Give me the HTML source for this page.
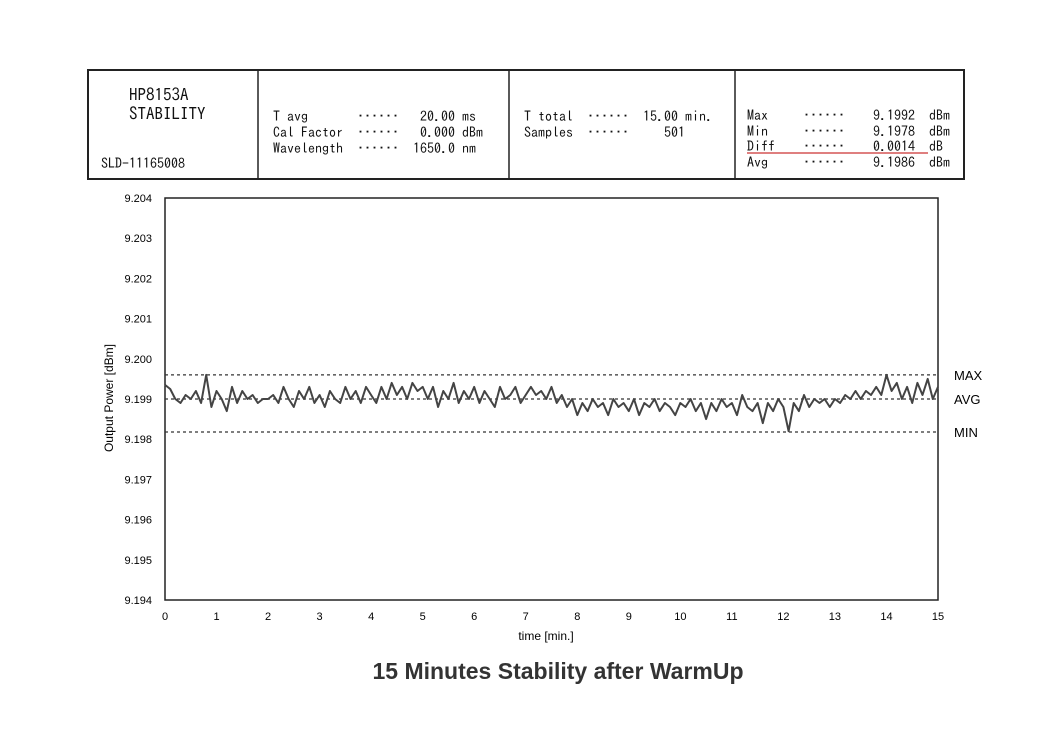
<!DOCTYPE html>
<html><head><meta charset="utf-8"><style>
body{margin:0;background:#fff;}
svg text{font-family:"Liberation Sans",sans-serif;}
.g{font-family:"IPAGothic","Liberation Mono",monospace;font-size:14px;fill:#111;}
</style></head><body>
<svg width="1052" height="744" viewBox="0 0 1052 744">
<rect x="0" y="0" width="1052" height="744" fill="#fff"/>
<g>
<rect x="88" y="70" width="876" height="109" fill="none" stroke="#222" stroke-width="2"/>
<line x1="258" y1="70" x2="258" y2="179" stroke="#222" stroke-width="1.5"/>
<line x1="509" y1="70" x2="509" y2="179" stroke="#222" stroke-width="1.5"/>
<line x1="735" y1="70" x2="735" y2="179" stroke="#222" stroke-width="1.5"/>
<text class="g" x="129" y="101" style="font-size:17px">HP8153A</text>
<text class="g" x="129" y="120" style="font-size:17px">STABILITY</text>
<text class="g" x="101" y="168">SLD-11165008</text>
<text class="g" x="273" y="121" xml:space="preserve">T avg       ······   20.00 ms</text>
<text class="g" x="273" y="137" xml:space="preserve">Cal Factor  ······   0.000 dBm</text>
<text class="g" x="273" y="153" xml:space="preserve">Wavelength  ······  1650.0 nm</text>
<text class="g" x="524" y="121" xml:space="preserve">T total  ······  15.00 min.</text>
<text class="g" x="524" y="137" xml:space="preserve">Samples  ······     501</text>
<text class="g" x="747" y="120" xml:space="preserve">Max     ······    9.1992  dBm</text>
<text class="g" x="747" y="136" xml:space="preserve">Min     ······    9.1978  dBm</text>
<text class="g" x="747" y="151" xml:space="preserve">Diff    ······    0.0014  dB</text>
<line x1="747" y1="153" x2="928" y2="153" stroke="#c33" stroke-width="1.2"/>
<text class="g" x="747" y="167" xml:space="preserve">Avg     ······    9.1986  dBm</text>
</g>
<g id="chart"></g>
<text x="113" y="398" transform="rotate(-90 113 398)" text-anchor="middle" font-size="12">Output Power [dBm]</text>
<text x="546" y="640" text-anchor="middle" font-size="12">time [min.]</text>
<text x="558" y="679" text-anchor="middle" font-size="23" font-weight="bold" fill="#333">15 Minutes Stability after WarmUp</text>
</svg>
<script>
const yTicks=[9.194,9.195,9.196,9.197,9.198,9.199,9.200,9.201,9.202,9.203,9.204];
const xTicks=[0,1,2,3,4,5,6,7,8,9,10,11,12,13,14,15];
const refNames=["MAX","AVG","MIN"];
const refValues=[9.1996,9.19900,9.19818];
const power=[9.19935,9.19925,9.1990,9.1989,9.1991,9.1990,9.1992,9.1989,9.1996,9.1988,9.1992,
9.1990,9.1987,9.1993,9.1989,9.1992,9.1990,9.1991,9.1989,9.1990,9.1990,
9.1991,9.1989,9.1993,9.1990,9.1988,9.1992,9.1990,9.1993,9.1989,9.1991,
9.1988,9.1992,9.1990,9.1989,9.1993,9.1990,9.1992,9.1989,9.1993,9.1991,
9.1989,9.1993,9.1990,9.1994,9.1991,9.1993,9.1990,9.1994,9.1992,9.1993,
9.1990,9.1993,9.1988,9.1992,9.1990,9.1994,9.1989,9.1992,9.1990,9.1993,
9.1989,9.1992,9.1990,9.1988,9.1993,9.1990,9.1991,9.1993,9.1989,9.1991,
9.1993,9.1991,9.1992,9.1990,9.1993,9.1989,9.1991,9.1988,9.1990,9.1986,
9.1989,9.1987,9.1990,9.1988,9.1989,9.1986,9.1990,9.1988,9.1989,9.1987,
9.1990,9.1986,9.1989,9.1988,9.1990,9.1987,9.1989,9.1988,9.1986,9.1989,
9.1988,9.1990,9.1987,9.1989,9.1985,9.1989,9.1987,9.1990,9.1988,9.1989,
9.1986,9.1991,9.1988,9.1987,9.1989,9.1984,9.1989,9.1987,9.1990,9.1988,
9.1982,9.1989,9.1987,9.1991,9.1988,9.1990,9.1989,9.1990,9.1988,9.1990,
9.1989,9.1991,9.1990,9.1992,9.1990,9.1992,9.1991,9.1993,9.1991,9.1996,
9.1992,9.1994,9.1990,9.1993,9.1989,9.1994,9.1991,9.1995,9.1990,9.1993];
const NS="http://www.w3.org/2000/svg";
const L=165,R=938,T=198,B=600,x0=0,x1=15,y0=9.194,y1=9.204;
const sx=v=>L+(v-x0)/(x1-x0)*(R-L);
const sy=v=>B-(v-y0)/(y1-y0)*(B-T);
const g=document.getElementById('chart');
function mk(t,a,txt){const e=document.createElementNS(NS,t);for(const k in a)e.setAttribute(k,a[k]);if(txt!==undefined)e.textContent=txt;g.appendChild(e);return e;}
const frame=mk('rect',{x:L,y:T,width:R-L,height:B-T,fill:'none',stroke:'#222','stroke-width':1.5});


yTicks.forEach(v=>{
 const t=mk('text',{x:152,y:sy(v)+4,'text-anchor':'end','font-size':11},v.toFixed(3));
 
 
});
xTicks.forEach(v=>{
 const t=mk('text',{x:sx(v),y:B+20,'text-anchor':'middle','font-size':11},String(v));
 
 
});
refValues.forEach((v,i)=>{
 const l=mk('line',{x1:L,x2:R,y1:sy(v),y2:sy(v),stroke:'#333','stroke-width':1.3,'stroke-dasharray':'3,3'});
 
 
 const t=mk('text',{x:954,y:sy(v)+5,'font-size':13,'font-family':'IPAGothic,monospace'},refNames[i]);
 
 
});
const n=power.length;
const pts=power.map((v,i)=>sx(x0+i*(x1-x0)/(n-1)).toFixed(1)+','+sy(v).toFixed(1)).join(' ');
const pl=mk('polyline',{points:pts,fill:'none',stroke:'#444','stroke-width':2,'stroke-linejoin':'round'});


</script>
</body></html>
